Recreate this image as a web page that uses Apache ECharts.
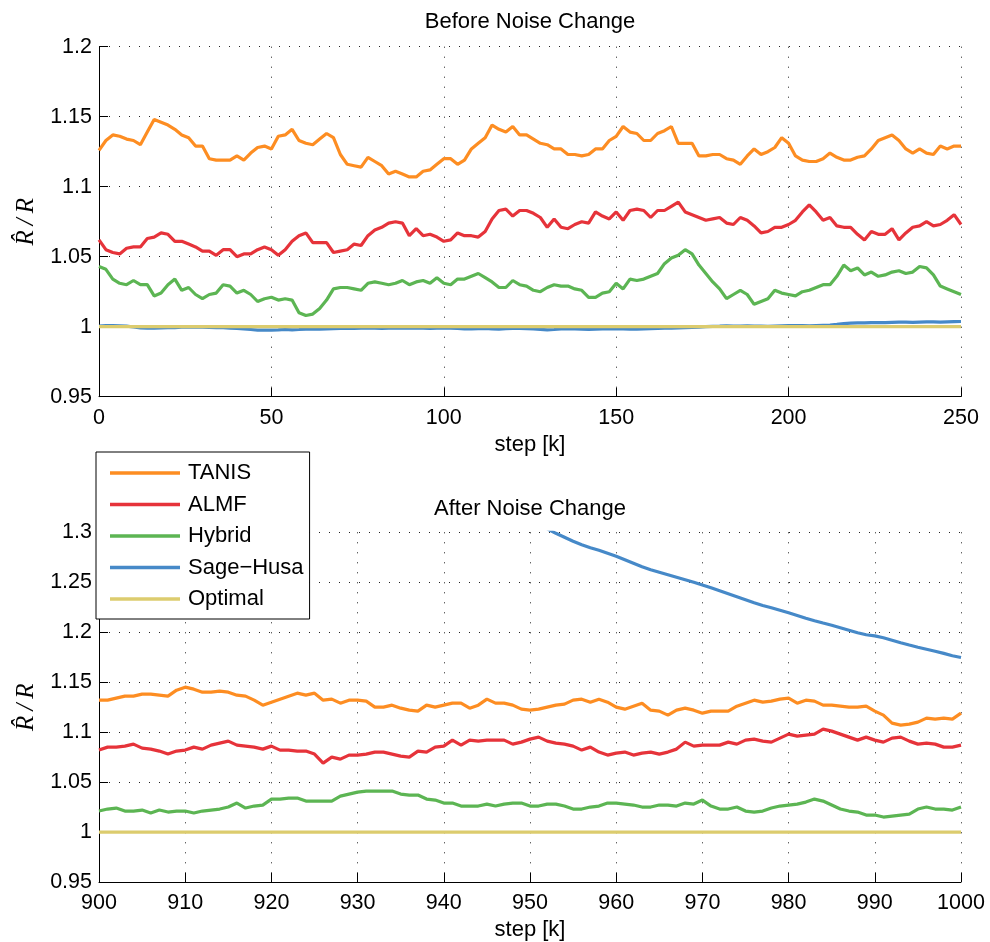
<!DOCTYPE html>
<html>
<head>
<meta charset="utf-8">
<script src="https://cdn.jsdelivr.net/npm/echarts@6/dist/echarts.min.js"></script>
<style>
html,body{margin:0;padding:0;background:#fff;}
#chart{width:990px;height:942px;}
</style>
</head>
<body>
<div id="chart"></div>
<script>
// ---------- data ----------
const seriesNames = ['TANIS', 'ALMF', 'Hybrid', 'Sage\u2212Husa', 'Optimal'];

// Before noise change: steps 0..250, sampled every 2 steps
const topStepStart = 0, topStepStride = 2;
const tanisBefore = [1.126,1.133,1.137,1.136,1.134,1.133,1.130,1.139,1.148,1.146,1.144,1.141,1.137,1.135,1.129,1.129,1.120,1.119,1.119,1.119,1.122,1.119,1.124,1.128,1.129,1.127,
1.136,1.137,1.141,1.133,1.131,1.130,1.134,1.138,1.135,1.123,1.116,1.115,1.114,1.121,1.118,1.115,1.109,1.111,1.109,1.107,1.107,1.111,1.112,1.116,1.120,
1.120,1.116,1.119,1.127,1.131,1.135,1.144,1.141,1.139,1.143,1.137,1.137,1.134,1.131,1.130,1.127,1.127,1.123,1.123,1.122,1.123,1.127,1.127,1.133,1.136,1.143,
1.139,1.138,1.133,1.133,1.138,1.140,1.143,1.131,1.131,1.131,1.122,1.122,1.123,1.123,1.120,1.119,1.116,1.122,1.127,1.123,1.125,1.128,1.135,1.131,1.122,
1.119,1.118,1.118,1.120,1.124,1.121,1.119,1.119,1.121,1.122,1.127,1.133,1.135,1.137,1.133,1.127,1.124,1.127,1.124,1.123,1.129,1.127,1.129,1.129];
const almfBefore = [1.062,1.055,1.053,1.052,1.056,1.057,1.057,1.063,1.064,1.067,1.066,1.061,1.061,1.059,1.057,1.054,1.054,1.051,1.055,1.055,1.050,1.052,1.052,1.055,1.057,1.055,
1.051,1.055,1.061,1.065,1.067,1.060,1.060,1.060,1.053,1.054,1.055,1.059,1.058,1.065,1.069,1.071,1.074,1.075,1.074,1.065,1.070,1.065,1.066,1.064,1.061,
1.062,1.067,1.065,1.065,1.064,1.068,1.077,1.083,1.084,1.079,1.083,1.083,1.081,1.078,1.071,1.077,1.071,1.070,1.073,1.075,1.074,1.082,1.079,1.077,1.082,1.076,
1.083,1.084,1.083,1.078,1.083,1.083,1.086,1.089,1.082,1.080,1.078,1.076,1.077,1.078,1.074,1.073,1.078,1.076,1.072,1.067,1.068,1.071,1.071,1.073,1.076,
1.082,1.087,1.082,1.076,1.078,1.072,1.071,1.071,1.066,1.062,1.068,1.066,1.066,1.070,1.062,1.067,1.071,1.072,1.075,1.072,1.073,1.076,1.080,1.073];
const hybridBefore = [1.043,1.041,1.034,1.031,1.030,1.033,1.030,1.030,1.022,1.024,1.030,1.034,1.026,1.028,1.023,1.020,1.023,1.024,1.030,1.029,1.024,1.026,1.023,1.018,1.020,1.021,
1.019,1.020,1.019,1.010,1.008,1.009,1.013,1.019,1.027,1.028,1.028,1.027,1.026,1.031,1.032,1.031,1.030,1.031,1.033,1.030,1.032,1.033,1.031,1.035,1.031,
1.030,1.034,1.034,1.036,1.038,1.035,1.032,1.028,1.028,1.033,1.030,1.029,1.026,1.025,1.028,1.030,1.029,1.029,1.027,1.026,1.021,1.021,1.024,1.025,1.031,1.027,
1.034,1.033,1.034,1.036,1.038,1.045,1.049,1.051,1.055,1.052,1.044,1.038,1.032,1.027,1.020,1.023,1.026,1.023,1.016,1.018,1.020,1.026,1.024,1.023,1.022,
1.025,1.026,1.028,1.030,1.030,1.036,1.044,1.040,1.042,1.037,1.039,1.036,1.037,1.039,1.040,1.038,1.039,1.043,1.042,1.037,1.029,1.027,1.025,1.023];
const sageBefore = [1.0005,1.0008,1.0008,1.0006,1.0004,0.9998,0.9992,0.9990,0.9990,0.9991,0.9993,0.9994,0.9996,0.9997,0.9998,0.9996,0.9995,0.9994,0.9993,0.9990,0.9988,0.9984,0.9980,0.9976,0.9975,0.9976,
0.9977,0.9980,0.9978,0.9980,0.9983,0.9984,0.9982,0.9985,0.9986,0.9988,0.9987,0.9988,0.9989,0.9990,0.9989,0.9988,0.9990,0.9991,0.9990,0.9989,0.9991,0.9990,0.9988,0.9990,0.9991,
0.9990,0.9988,0.9985,0.9984,0.9986,0.9987,0.9985,0.9983,0.9986,0.9988,0.9987,0.9986,0.9984,0.9981,0.9978,0.9980,0.9984,0.9986,0.9985,0.9983,0.9980,0.9982,0.9985,0.9986,0.9985,0.9984,
0.9983,0.9982,0.9984,0.9986,0.9987,0.9989,0.9990,0.9992,0.9993,0.9995,0.9997,1.0000,1.0003,1.0004,1.0006,1.0005,1.0004,1.0006,1.0005,1.0004,1.0003,1.0005,1.0006,1.0007,1.0008,
1.0007,1.0006,1.0008,1.0010,1.0012,1.0016,1.0022,1.0026,1.0028,1.0027,1.0029,1.0030,1.0029,1.0031,1.0033,1.0032,1.0031,1.0033,1.0035,1.0034,1.0032,1.0034,1.0036,1.0037];
const optimalBeforeSteps = [0, 250];
const optimalBefore = [1, 1];

// After noise change: steps 900..1000, every step
const botStepStart = 900;
const tanisAfter = [1.132,1.132,1.134,1.136,1.136,1.138,1.138,1.137,1.136,1.142,1.145,1.143,1.140,1.140,1.141,1.140,1.137,1.136,1.132,1.127,1.130,1.133,1.136,1.139,1.137,1.139,1.132,1.133,1.129,1.132,1.132,1.131,1.125,1.125,
1.127,1.124,1.122,1.121,1.127,1.125,1.127,1.129,1.129,1.124,1.127,1.133,1.129,1.129,1.127,1.123,1.122,1.123,1.125,1.127,1.128,1.132,1.133,1.130,1.133,1.130,1.125,1.123,1.126,1.129,1.122,1.121,
1.117,1.122,1.124,1.122,1.119,1.121,1.121,1.121,1.126,1.129,1.132,1.130,1.131,1.133,1.134,1.129,1.132,1.131,1.127,1.127,1.126,1.125,1.125,1.126,1.121,1.117,1.109,1.107,1.108,1.110,1.114,1.113,1.114,1.113,1.119];
const almfAfter = [1.082,1.085,1.085,1.086,1.088,1.084,1.083,1.081,1.078,1.081,1.082,1.085,1.083,1.087,1.089,1.091,1.087,1.086,1.085,1.083,1.086,1.082,1.082,1.081,1.081,1.078,1.069,1.075,1.073,1.077,1.077,1.078,1.080,1.080,
1.078,1.076,1.075,1.081,1.080,1.085,1.086,1.092,1.087,1.092,1.091,1.092,1.092,1.092,1.088,1.090,1.093,1.095,1.091,1.089,1.088,1.086,1.082,1.085,1.080,1.077,1.079,1.080,1.077,1.079,1.080,1.078,
1.080,1.083,1.090,1.086,1.087,1.087,1.087,1.090,1.088,1.092,1.093,1.091,1.090,1.094,1.098,1.096,1.097,1.098,1.103,1.101,1.098,1.095,1.092,1.095,1.092,1.090,1.094,1.095,1.091,1.088,1.089,1.088,1.085,1.085,1.087];
const hybridAfter = [1.021,1.023,1.024,1.021,1.021,1.022,1.019,1.022,1.020,1.021,1.021,1.019,1.021,1.022,1.023,1.025,1.029,1.024,1.026,1.027,1.033,1.033,1.034,1.034,1.031,1.031,1.031,1.031,1.036,1.038,1.040,1.041,1.041,1.041,
1.041,1.038,1.037,1.037,1.033,1.032,1.029,1.029,1.026,1.026,1.026,1.028,1.026,1.028,1.029,1.029,1.026,1.026,1.028,1.028,1.026,1.023,1.023,1.025,1.026,1.029,1.029,1.028,1.027,1.025,1.025,1.027,
1.027,1.026,1.029,1.028,1.032,1.026,1.023,1.023,1.025,1.021,1.020,1.021,1.024,1.026,1.027,1.028,1.030,1.033,1.031,1.027,1.023,1.021,1.020,1.017,1.017,1.015,1.016,1.017,1.018,1.023,1.025,1.023,1.023,1.022,1.025];
const sageAfterStart = 952;
const sageAfter = [1.3035,1.2990,1.2950,1.2910,1.2875,1.2845,1.2820,1.2790,1.2760,1.2725,1.2690,1.2655,1.2625,1.2600,1.2575,1.2550,1.2525,1.2500,1.2473,1.2445,1.2415,1.2385,1.2355,1.2325,1.2295,1.2268,1.2245,1.2220,1.2195,1.2168,1.2140,1.2115,1.2092,1.2070,1.2045,1.2020,1.1995,1.1975,1.1963,1.1945,1.1920,1.1895,1.1872,1.1850,1.1830,1.1810,1.1788,1.1765,1.1747];
const optimalAfterSteps = [900, 1000];
const optimalAfter = [1, 1];

const topYTicks = {min: 0.95, max: 1.2, interval: 0.05};
const botYTicks = {min: 0.95, max: 1.3, interval: 0.05};
const topXTicks = {min: 0, max: 250, interval: 50};
const botXTicks = {min: 900, max: 1000, interval: 10};

// ---------- build ----------
const colors = ['#FD8D22', '#E6333A', '#5CB553', '#4689C8', '#DCCC6E'];
function pairsStride(start, stride, vals) { return vals.map((v, i) => [start + i * stride, v]); }
function pairsXY(xs, vals) { return vals.map((v, i) => [xs[i], v]); }

const font = 'Liberation Sans, Arial, Helvetica, sans-serif';
function xAxisCfg(idx, t) {
  return {
    type: 'value', gridIndex: idx, min: t.min, max: t.max, interval: t.interval,
    name: 'step [k]', nameLocation: 'middle', nameGap: 37,
    nameTextStyle: {fontSize: 22, color: '#000', fontFamily: font},
    axisLine: {show: true, onZero: false, lineStyle: {color: '#000', width: 1}},
    axisTick: {show: true, inside: true, length: 9, lineStyle: {color: '#000', width: 1}},
    axisLabel: {color: '#000', fontSize: 21.5, fontFamily: font, margin: 10,
                formatter: v => String(Math.round(v))},
    splitLine: {show: true, lineStyle: {color: '#222', width: 1, type: [1, 9]}}
  };
}
function yAxisCfg(idx, t) {
  return {
    type: 'value', gridIndex: idx, min: t.min, max: t.max, interval: t.interval,
    name: 'R\u0302\u2009/\u2009R', nameLocation: 'middle', nameGap: 60, nameRotate: 90,
    nameTextStyle: {fontSize: 25, color: '#000', fontFamily: 'Liberation Serif, DejaVu Serif, serif', fontStyle: 'italic'},
    axisLine: {show: true, onZero: false, lineStyle: {color: '#000', width: 1}},
    axisTick: {show: true, inside: true, length: 9, lineStyle: {color: '#000', width: 1}},
    axisLabel: {color: '#000', fontSize: 21.5, fontFamily: font, margin: 7},
    splitLine: {show: true, lineStyle: {color: '#222', width: 1, type: [1, 9]}}
  };
}
function lineSeries(name, color, idx, data, z) {
  return {
    type: 'line', name: name, xAxisIndex: idx, yAxisIndex: idx, data: data,
    showSymbol: false, symbol: 'none', clip: true, z: z,
    lineStyle: {color: color, width: 3.2}, itemStyle: {color: color},
    emphasis: {disabled: true}, animation: false
  };
}

const series = [
  lineSeries(seriesNames[0], colors[0], 0, pairsStride(topStepStart, topStepStride, tanisBefore), 2),
  lineSeries(seriesNames[1], colors[1], 0, pairsStride(topStepStart, topStepStride, almfBefore), 2),
  lineSeries(seriesNames[2], colors[2], 0, pairsStride(topStepStart, topStepStride, hybridBefore), 2),
  lineSeries(seriesNames[3], colors[3], 0, pairsStride(topStepStart, topStepStride, sageBefore), 2),
  lineSeries(seriesNames[4], colors[4], 0, pairsXY(optimalBeforeSteps, optimalBefore), 2),
  lineSeries(seriesNames[0], colors[0], 1, pairsStride(botStepStart, 1, tanisAfter), 2),
  lineSeries(seriesNames[1], colors[1], 1, pairsStride(botStepStart, 1, almfAfter), 2),
  lineSeries(seriesNames[2], colors[2], 1, pairsStride(botStepStart, 1, hybridAfter), 2),
  lineSeries(seriesNames[3], colors[3], 1, pairsStride(sageAfterStart, 1, sageAfter), 2),
  lineSeries(seriesNames[4], colors[4], 1, pairsXY(optimalAfterSteps, optimalAfter), 2)
];

const chart = echarts.init(document.getElementById('chart'), null, {renderer: 'canvas'});
chart.setOption({
  backgroundColor: '#fff',
  animation: false,
  title: [
    {text: 'Before Noise Change', left: 530, top: 11, textAlign: 'center', padding: 0,
     textStyle: {fontSize: 22, fontWeight: 'normal', color: '#000', fontFamily: font}},
    {text: 'After Noise Change', left: 530, top: 498, textAlign: 'center', padding: 0,
     textStyle: {fontSize: 22, fontWeight: 'normal', color: '#000', fontFamily: font}}
  ],
  grid: [
    {left: 99, right: 29, top: 46.7, height: 350, containLabel: false},
    {left: 99, right: 29, top: 532.3, height: 350, containLabel: false}
  ],
  xAxis: [xAxisCfg(0, topXTicks), xAxisCfg(1, botXTicks)],
  yAxis: [yAxisCfg(0, topYTicks), yAxisCfg(1, botYTicks)],
  legend: {
    data: seriesNames, orient: 'vertical', left: 96, top: 452,
    padding: [10, 6, 9, 14], itemGap: 9.5, itemWidth: 70, itemHeight: 3.5, icon: 'rect',
    backgroundColor: '#fff', borderColor: '#000', borderWidth: 1, borderRadius: 0, z: 20,
    selectedMode: false,
    textStyle: {fontSize: 22, color: '#000', fontFamily: font, padding: [0, 0, 0, 3]}
  },
  series: series
});
</script>
</body>
</html>
